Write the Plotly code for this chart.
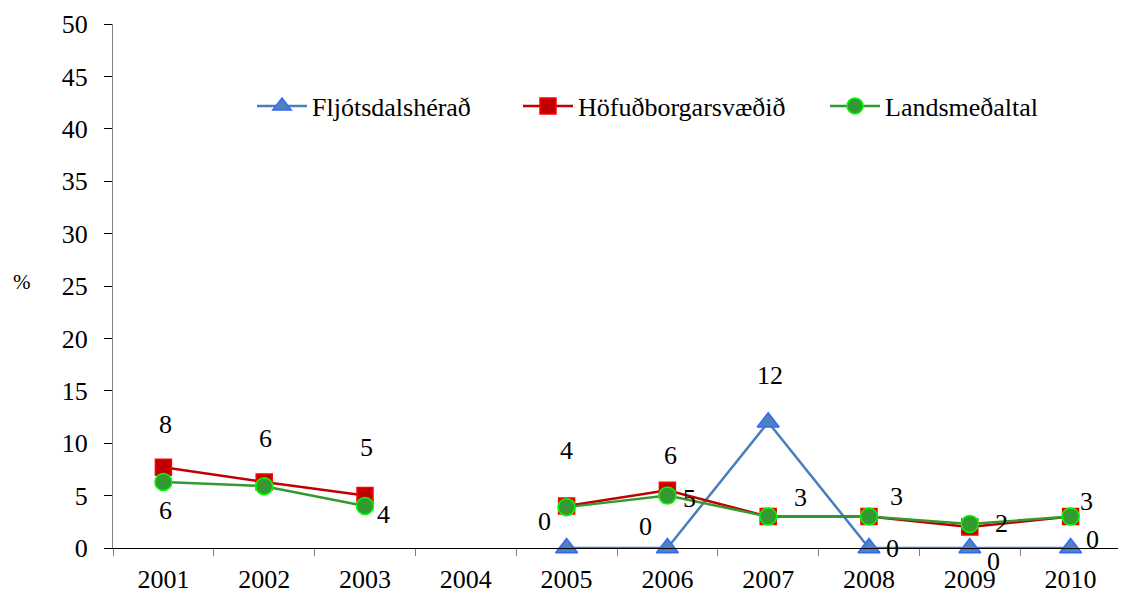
import plotly.graph_objects as go

years = ["2001", "2002", "2003", "2004", "2005", "2006", "2007", "2008", "2009", "2010"]
fljotsdalsherad = [None, None, None, None, 0, 0, 12, 0, 0, 0]
hofudborgarsvaedid = [7.7, 6.3, 5.0, None, 4.0, 5.5, 3.0, 3.0, 2.0, 3.0]
landsmedaltal = [6.3, 5.9, 4.0, None, 3.9, 5.0, 3.0, 3.0, 2.3, 3.0]

# data labels (as shown on the chart)
lab_fljot = ["", "", "", "", "0", "0", "12", "0", "0", "0"]
lab_hofud = ["8", "6", "5", "", "4", "6", "", "", "", ""]
lab_lands = ["6", "", "4", "", "", "5", "3", "3", "2", "3"]

names = ["Fljótsdalshérað", "Höfuðborgarsvæðið", "Landsmeðaltal"]

FONT = "Liberation Serif"
FS = 26

# label offsets in px (style)
off_fljot = [None, None, None, None, (-22, 27), (-22, 22), (2, 47), (23, 0), (24, -13), (22, 9)]
off_hofud = [(2, 43), (1, 43), (1, 48), None, (0, 56), (3, 35), None, None, None, None]
off_lands = [(2, -29), None, (18, -8), None, None, (22, -3), (32, 19), (27, 20), (32, 0), (16, 15)]

fig = go.Figure()
fig.add_trace(go.Scatter(
    x=years, y=fljotsdalsherad, name=names[0], mode="lines+markers", cliponaxis=False,
    legend="legend",
    line=dict(color="#4A7EBB", width=2.5),
    marker=dict(symbol="triangle-up", size=19, color="#4F81BD", line=dict(color="#3366FF", width=1.5)),
))
fig.add_trace(go.Scatter(
    x=years, y=hofudborgarsvaedid, name=names[1], mode="lines+markers", cliponaxis=False,
    legend="legend2",
    line=dict(color="#C00000", width=2.5),
    marker=dict(symbol="square", size=16, color="#C00000", line=dict(color="#FF0000", width=1.5)),
))
fig.add_trace(go.Scatter(
    x=years, y=landsmedaltal, name=names[2], mode="lines+markers", cliponaxis=False,
    legend="legend3",
    line=dict(color="#339933", width=2.5),
    marker=dict(symbol="circle", size=17, color="#339933", line=dict(color="#00FF00", width=1.5)),
))

annotations = []
for vals, labs, offs in [(fljotsdalsherad, lab_fljot, off_fljot),
                         (hofudborgarsvaedid, lab_hofud, off_hofud),
                         (landsmedaltal, lab_lands, off_lands)]:
    for i, (yv, t, o) in enumerate(zip(vals, labs, offs)):
        if t and yv is not None and o is not None:
            annotations.append(dict(x=i, y=yv, xref="x", yref="y", text=t, showarrow=False,
                                    xshift=o[0], yshift=o[1],
                                    font=dict(family=FONT, size=FS, color="black")))

# page has an 8px body margin: figure coords = page coords - 8
W, H = 1118, 595
L, R, T, B = 105, 5, 16, 55
pw, ph = W - L - R, H - T - B
annotations.append(dict(x=(14 - L) / pw, y=(H - B - 274) / ph, xref="paper", yref="paper",
                        text="%", showarrow=False, xanchor="center", yanchor="middle",
                        font=dict(family=FONT, size=21, color="black")))


def leg(px):
    return dict(orientation="h", x=(px - 8 - L) / pw, y=(H - B - 98) / ph, xanchor="left", yanchor="middle",
                font=dict(family=FONT, size=FS, color="black"), bgcolor="rgba(0,0,0,0)", itemwidth=50)


fig.update_layout(
    width=W, height=H,
    margin=dict(l=L, r=R, t=T, b=B, autoexpand=False),
    plot_bgcolor="white", paper_bgcolor="white",
    font=dict(family=FONT, size=FS, color="black"),
    showlegend=True,
    legend=leg(252), legend2=leg(518), legend3=leg(825),
    annotations=annotations,
)
fig.update_xaxes(type="category", range=[-0.5, 9.5], categoryorder="array", categoryarray=years,
                 showgrid=False, showline=True, linecolor="black", linewidth=1,
                 ticks="outside", ticklen=7, tickcolor="#808080", tickson="boundaries",
                 tickfont=dict(family=FONT, size=FS, color="black"), zeroline=False,
                 ticklabelstandoff=8)
fig.update_yaxes(range=[0, 50], dtick=5, showgrid=False, showline=True, linecolor="#808080", linewidth=1,
                 ticks="outside", ticklen=8, tickcolor="black",
                 tickfont=dict(family=FONT, size=FS, color="black"), zeroline=False,
                 ticklabelstandoff=11)

fig.write_html("out.html")
